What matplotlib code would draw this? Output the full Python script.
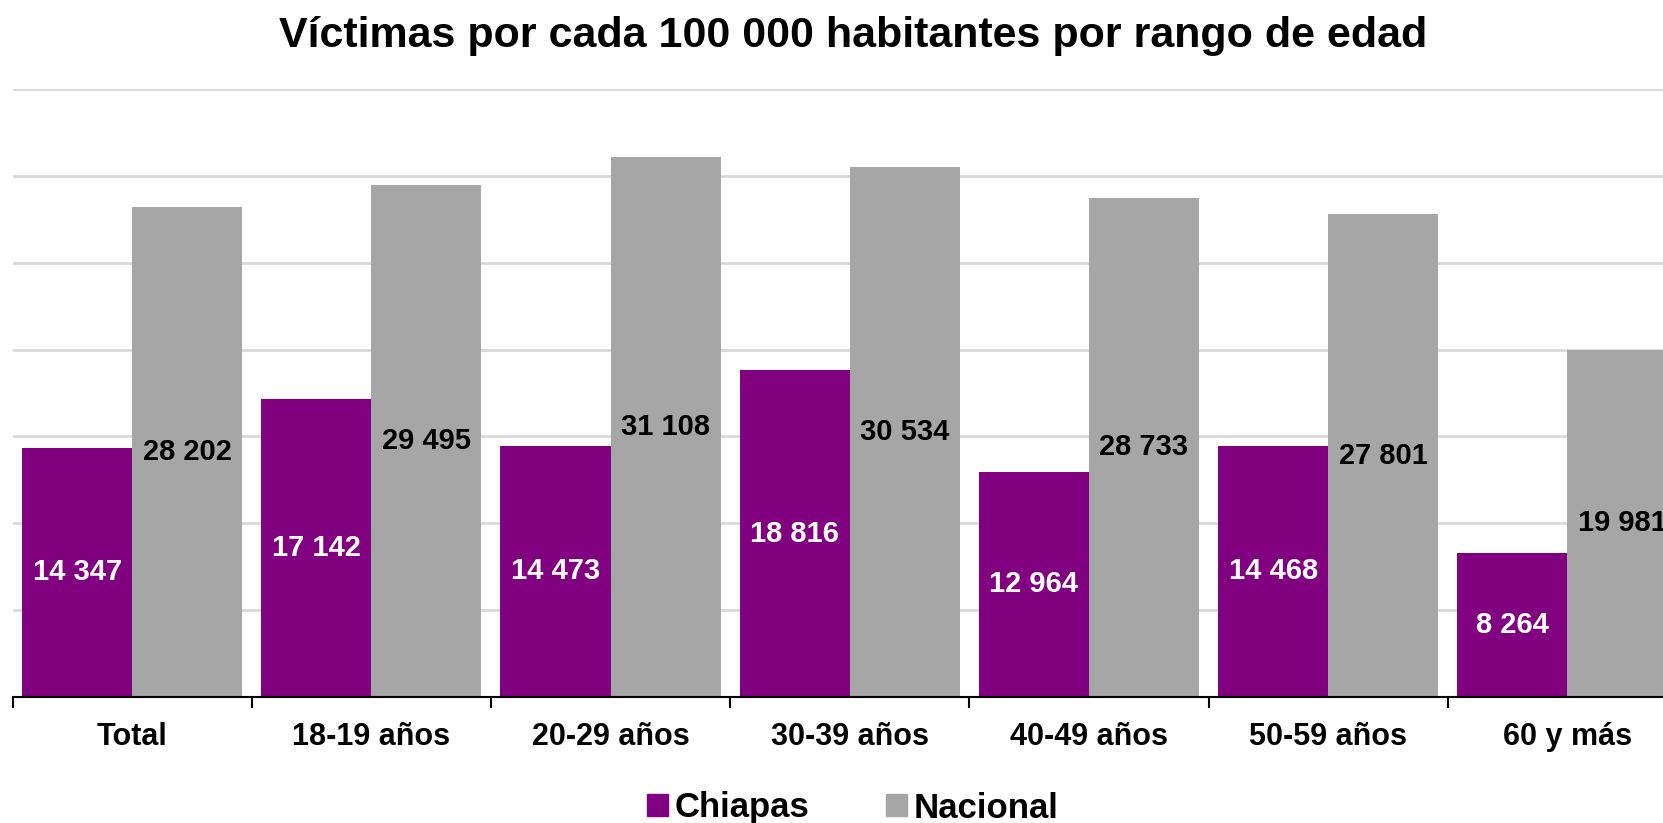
import numpy as np
import matplotlib
matplotlib.use('Agg')
import matplotlib.pyplot as plt
from matplotlib.patches import Patch

categories = ['Total', '18-19 años', '20-29 años', '30-39 años', '40-49 años', '50-59 años', '60 y más']
chiapas = [14347, 17142, 14473, 18816, 12964, 14468, 8264]
nacional = [28202, 29495, 31108, 30534, 28733, 27801, 19981]

purple = '#800080'
grey = '#a6a6a6'
narrow = ['Liberation Sans Narrow', 'Liberation Sans', 'DejaVu Sans']

W, H = 1663, 823
fig = plt.figure(figsize=(W / 100, H / 100), dpi=100)
# plot area runs past the right edge, as in the original crop
left, right, bottom, top = 12.5, 1687, 697, 89
ax = fig.add_axes([left / W, 1 - bottom / H, (right - left) / W, (bottom - top) / H])

x = np.arange(len(categories))
w = 0.46
b1 = ax.bar(x - w / 2, chiapas, w, color=purple, zorder=3)
b2 = ax.bar(x + w / 2, nacional, w, color=grey, zorder=3)

def fmt(v):
    return '{:,}'.format(v).replace(',', ' ')

for rect, v in zip(b1, chiapas):
    ax.text(rect.get_x() + rect.get_width() / 2, v / 2, fmt(v), ha='center', va='center',
            color='white', fontsize=21, fontweight='bold', family=narrow, zorder=4)
for rect, v in zip(b2, nacional):
    ax.text(rect.get_x() + rect.get_width() / 2, v / 2, fmt(v), ha='center', va='center',
            color='black', fontsize=21, fontweight='bold', family=narrow, zorder=4)

ax.set_xlim(-0.5, len(categories) - 0.5)
ax.set_ylim(0, 35000)
ax.set_yticks(np.arange(0, 35001, 5000))
ax.yaxis.grid(True, color='#d9d9d9', linewidth=2, zorder=0)
ax.tick_params(axis='y', left=False, labelleft=False)
for s in ['left', 'right', 'top']:
    ax.spines[s].set_visible(False)
ax.spines['bottom'].set_linewidth(1.5)
ax.spines['bottom'].set_zorder(5)

# ticks between the groups, labels at the centres
ax.set_xticks(np.arange(-0.5, len(categories), 1))
ax.set_xticklabels([])
ax.tick_params(axis='x', which='major', length=8, width=1.5, direction='out')
ax.set_xticks(x, minor=True)
ax.set_xticklabels(categories, minor=True, fontsize=22, fontweight='bold', family=narrow)
ax.tick_params(axis='x', which='minor', length=0, pad=18)

fig.text(853 / W, 1 - 36 / H, 'Víctimas por cada 100 000 habitantes por rango de edad',
         ha='center', va='center', fontsize=31, fontweight='bold', family=narrow)

handles = [Patch(color=purple, label='Chiapas'), Patch(color=grey, label='Nacional')]
fig.legend(handles=handles, loc='center', bbox_to_anchor=(853 / W, 1 - 808 / H), ncol=2,
           frameon=False, prop={'family': 'Liberation Sans', 'weight': 'bold', 'size': 25},
           handlelength=0.6, handleheight=0.6, handletextpad=0.2, columnspacing=2.2)

fig.savefig('out.png', dpi=100)
